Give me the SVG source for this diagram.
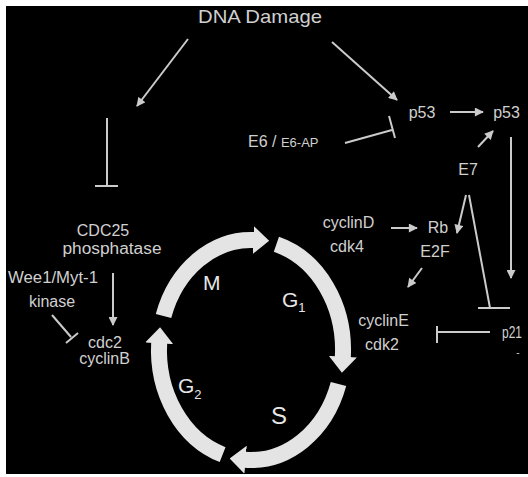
<svg xmlns="http://www.w3.org/2000/svg" width="528" height="477" viewBox="0 0 528 477">
  <defs>
    <style>
      .lbl{font-family:"Liberation Sans",Arial,sans-serif;font-size:16px;fill:#d0d0d0;text-anchor:middle}
      .phase{font-family:"Liberation Sans",Arial,sans-serif;font-size:21px;fill:#e6e6e6}
      .sub{font-size:13px}
      .ln{stroke:#cbcbcb;stroke-width:2;fill:none}
      .arc{stroke:#e4e4e4;stroke-width:16;fill:none;marker-end:url(#cyc)}
      .act{marker-end:url(#ah)}
    </style>
    <marker id="ah" viewBox="0 0 10 10" refX="9" refY="5" markerWidth="5" markerHeight="4.5" orient="auto">
      <path d="M0,0 L10,5 L0,10 Z" fill="#cbcbcb"/>
    </marker>
    <marker id="cyc" markerUnits="userSpaceOnUse" viewBox="0 0 16 28" refX="1" refY="14" markerWidth="16" markerHeight="28" orient="auto">
      <path d="M0,0 L16,14 L0,28 Z" fill="#e4e4e4"/>
    </marker>
  </defs>

  <rect width="528" height="477" fill="#ffffff"/>
  <rect x="6" y="6" width="522" height="468" fill="#000000"/>

  <!-- cell cycle ring: four phase arrows on one ellipse -->
  <g id="cycle">
    <path class="arc" d="M163.5,316 A92,110 0 0 1 254.2,240.1"/>
    <path class="arc" d="M276.4,244.3 A92,110 0 0 1 342.8,357.7"/>
    <path class="arc" d="M338.5,384 A92,110 0 0 1 244.6,459.7"/>
    <path class="arc" d="M222.6,454.6 A92,110 0 0 1 159.2,342.3"/>
    <text class="phase" x="203" y="290">M</text>
    <text class="phase" x="282" y="307">G<tspan class="sub" dy="5">1</tspan></text>
    <text class="phase" x="178" y="393">G<tspan class="sub" dy="6">2</tspan></text>
    <text class="phase" x="271" y="424" style="font-size:24px">S</text>
  </g>

  <g id="connectors">
    <!-- activations -->
    <line class="ln act" x1="188" y1="39" x2="137" y2="106"/>
    <line class="ln act" x1="332" y1="42" x2="397" y2="100"/>
    <line class="ln act" x1="113" y1="273" x2="113" y2="325"/>
    <line class="ln act" x1="450" y1="112" x2="483" y2="112"/>
    <line class="ln act" x1="478" y1="147" x2="493" y2="131"/>
    <line class="ln act" x1="511" y1="137" x2="511" y2="278"/>
    <line class="ln act" x1="466" y1="195" x2="457" y2="233"/>
    <line class="ln act" x1="391" y1="228" x2="417" y2="228"/>
    <line class="ln act" x1="422" y1="268" x2="408" y2="287"/>
    <!-- inhibitions -->
    <path class="ln" d="M107,118 V186 M95,186 H118"/>
    <path class="ln" d="M52,315 L71,337 M66,343 L78,333"/>
    <path class="ln" d="M345,143 L392,130 M389,116 L395,138"/>
    <path class="ln" d="M469,195 L490,308 M478,308 H510"/>
    <path class="ln" d="M490,332 H437 M437,326 V343"/>
  </g>

  <g id="dna-damage"><text class="lbl" x="260" y="23" style="font-size:19px" textLength="124" lengthAdjust="spacingAndGlyphs">DNA Damage</text></g>
  <g id="cdc25"><text class="lbl" x="103" y="236">CDC25</text><text class="lbl" x="112" y="254" textLength="99" lengthAdjust="spacingAndGlyphs">phosphatase</text></g>
  <g id="wee1"><text class="lbl" x="53" y="283" textLength="90" lengthAdjust="spacingAndGlyphs">Wee1/Myt-1</text><text class="lbl" x="52" y="307">kinase</text></g>
  <g id="cdc2"><text class="lbl" x="105" y="348">cdc2</text><text class="lbl" x="104.5" y="364">cyclinB</text></g>
  <g id="p53-a"><text class="lbl" x="422" y="118">p53</text></g>
  <g id="p53-b"><text class="lbl" x="506.5" y="118">p53</text></g>
  <g id="e6"><text class="lbl" x="248" y="147" style="text-anchor:start">E6 / <tspan style="font-size:13px">E6-AP</tspan></text></g>
  <g id="e7"><text class="lbl" x="468" y="175">E7</text></g>
  <g id="cyclind"><text class="lbl" x="348.5" y="228">cyclinD</text><text class="lbl" x="347" y="252">cdk4</text></g>
  <g id="rb"><text class="lbl" x="438" y="233">Rb</text><text class="lbl" x="435" y="257">E2F</text></g>
  <g id="cycline"><text class="lbl" x="383.5" y="326">cyclinE</text><text class="lbl" x="382" y="350">cdk2</text></g>
  <g id="p21"><text class="lbl" x="502" y="338" style="text-anchor:start" textLength="20" lengthAdjust="spacingAndGlyphs">p21</text><text class="lbl" x="518" y="356" style="font-size:10px">-</text></g>
</svg>
